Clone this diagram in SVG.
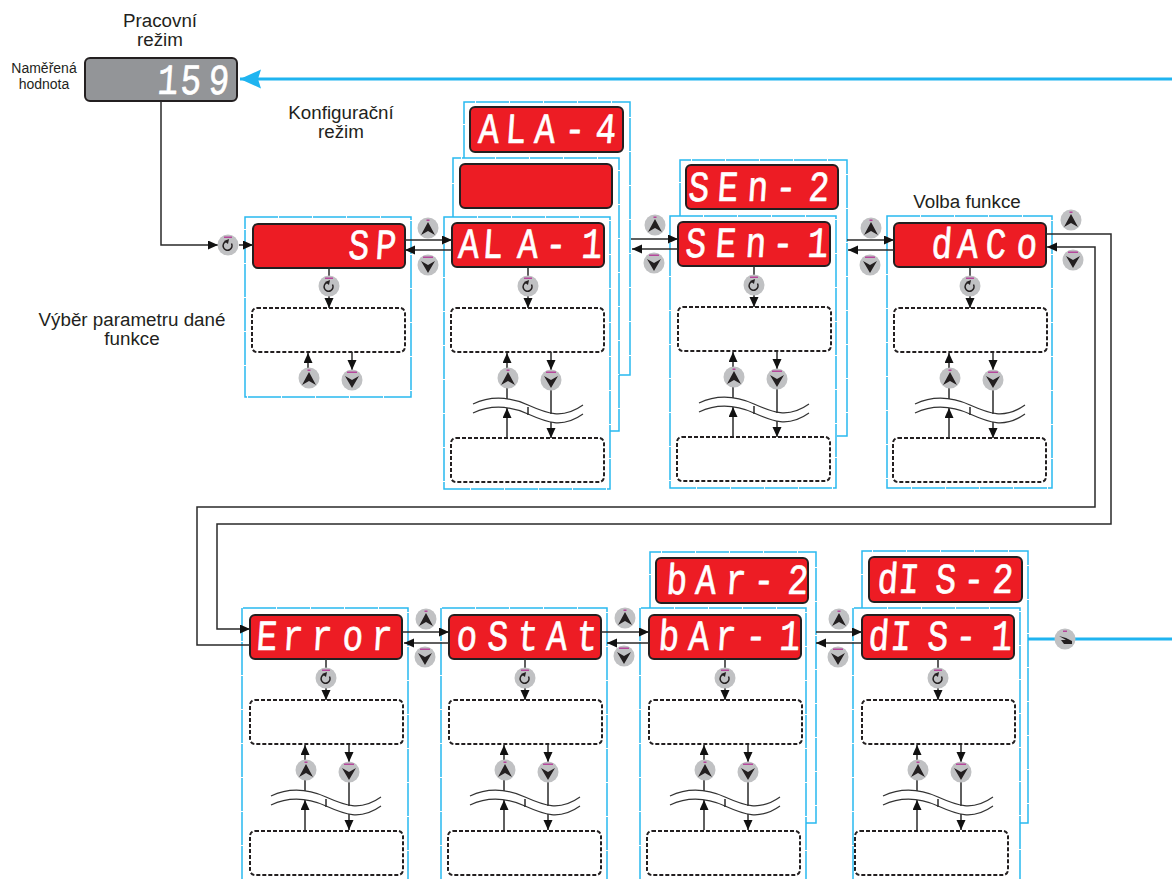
<svg xmlns="http://www.w3.org/2000/svg" width="1172" height="879" viewBox="0 0 1172 879">
<style>
text{font-family:"Liberation Sans",Arial,sans-serif;fill:#231f20}
.lbl{font-size:18.8px;text-anchor:middle}
.sm{font-size:14px;text-anchor:middle}
.seg{font-family:"Liberation Mono","DejaVu Sans Mono",monospace;font-size:43px;fill:#fff;stroke:#fff;stroke-width:.7;stroke-linejoin:round;text-anchor:middle}
.red{fill:#ed1c24;stroke:#231f20;stroke-width:2}
.gray{fill:#939598;stroke:#231f20;stroke-width:2}
.fr{fill:none;stroke:#29b9f0;stroke-width:1.5;stroke-dasharray:33 1}
.dash{fill:none;stroke:#231f20;stroke-width:2;stroke-dasharray:4 2}
.ln{fill:none;stroke:#2a2a2a;stroke-width:1.5}
.arr{marker-end:url(#ah)}
.wave{fill:none;stroke:#333;stroke-width:1.2}
.blue{fill:none;stroke:#1fb4f0;stroke-width:3}
.disc{fill:#c0c1c3}
.pink{fill:#b5479b}
.gl{fill:#231f20}
</style>
<defs>
<marker id="ah" markerUnits="userSpaceOnUse" markerWidth="11" markerHeight="10" refX="10" refY="4.5" orient="auto"><path d="M0,0L10,4.5L0,9z" fill="#111"/></marker>
<marker id="bh" markerUnits="userSpaceOnUse" markerWidth="22" markerHeight="20" refX="21" refY="9.5" orient="auto"><path d="M0,0L21,9.5L0,19L3,9.5z" fill="#1fb4f0"/></marker>
<g id="up"><circle class="disc" r="10.5"/><rect class="pink" x="-1.5" y="-8.5" width="3" height="1.5"/><path class="gl" d="M0,-6L7,7L0,3L-7,7z"/></g>
<g id="dn"><circle class="disc" r="10.5"/><rect class="pink" x="-5" y="-8.5" width="10" height="1.5"/><path class="gl" d="M-7,-4L0,0L7,-4L0,8z"/></g>
<g id="rot"><circle class="disc" r="10.5"/><rect class="pink" x="-4" y="-8.5" width="8" height="1.5"/><path d="M-2,-3.5A4.5,4.5 0 1 0 3.5,-1.5" fill="none" stroke="#231f20" stroke-width="1.5"/><path class="gl" d="M-4,-4L1,-6L0,-1z"/></g>
<g id="hand"><circle class="disc" r="10.5"/><rect class="pink" x="-2" y="-8.5" width="4" height="1.5"/><path class="gl" d="M-6,-3L1,-1L7,2L7,5L-1,5L-4,1L1,1z"/></g>
<path id="box" class="dash" d="M5,0H148a5,5 0 0 1 5,5V39a5,5 0 0 1 -5,5H5a5,5 0 0 1 -5,-5V5a5,5 0 0 1 5,-5z"/>
<g id="links-short">
<path class="ln" d="M76,44V56"/><path class="ln arr" d="M76,70V85"/>
<path class="ln arr" d="M55,146V130"/><path class="ln arr" d="M99,129V147"/>
</g>
<g id="links-long">
<use href="#links-short"/>
<path class="ln" d="M55,165V176"/><path class="ln" d="M99,165V191"/>
<path class="ln arr" d="M55,215V185"/><path class="ln arr" d="M99,199V215"/>
<path class="wave" d="M21,181C40,172 58,174 76,182S110,197 131,182"/>
<path class="wave" d="M21,190C40,181 58,183 76,191S110,206 131,191"/>
<path class="ln" d="M76,184V192" stroke-width="1"/>
</g>
<g id="pads-short"><use href="#rot" x="76" y="63"/><use href="#up" x="56" y="155"/><use href="#dn" x="99" y="157"/></g>
</defs>

<g id="labels">
<text class="lbl" x="160" y="27">Pracovní</text><text class="lbl" x="160" y="46">režim</text>
<text class="sm" x="44" y="73">Naměřená</text><text class="sm" x="44" y="89">hodnota</text>
<text class="lbl" x="341" y="119">Konfigurační</text><text class="lbl" x="341" y="138">režim</text>
<text class="lbl" x="132" y="326">Výběr parametru dané</text><text class="lbl" x="132" y="345">funkce</text>
<text class="lbl" x="967" y="208">Volba funkce</text>
</g>

<g id="node-run"><rect class="gray" x="85" y="58" width="152" height="43" rx="5"/><text class="seg" transform="translate(0,94) skewX(-4) scale(.8,1)" x="208.75 237.5 272.5" y="0">159</text></g>

<g id="node-sp"><rect class="fr" x="245" y="217" width="166" height="180"/><rect class="red" x="253" y="224" width="152" height="44" rx="5"/><text class="seg" transform="translate(0,259) skewX(-4) scale(.8,1)" x="447.5 481.25" y="0">SP</text><use href="#box" x="252" y="308"/></g>

<g id="node-ala">
<path class="fr" d="M464,158V102H630V375H619"/>
<rect class="red" x="470" y="107" width="153" height="45" rx="5"/><text class="seg" transform="translate(0,143) skewX(-4) scale(.8,1)" x="610 643.75 680 717.5 756.25" y="0">ALA-4</text>
<path class="fr" d="M453,217V158H619V431H610"/>
<rect class="red" x="460" y="164" width="152" height="44" rx="5"/>
<rect class="fr" x="444" y="217" width="166" height="272"/>
<rect class="red" x="452" y="223" width="152" height="44" rx="5"/><text class="seg" transform="translate(0,258) skewX(-4) scale(.8,1)" x="585 615 658.75 693.75 738.75" y="0">ALA-1</text>
<use href="#box" x="451" y="308"/><use href="#box" x="451" y="438"/>
</g>

<g id="node-sen">
<path class="fr" d="M680,216V160H847V436H836"/>
<rect class="red" x="686" y="165" width="152" height="44" rx="5"/><text class="seg" transform="translate(0,201) skewX(-4) scale(.8,1)" x="872.5 908.75 946.25 981.25 1022.5" y="0">SEn-2</text>
<rect class="fr" x="670" y="216" width="166" height="272"/>
<rect class="red" x="678" y="222" width="152" height="44" rx="5"/><text class="seg" transform="translate(0,257) skewX(-4) scale(.8,1)" x="868.75 906.25 943.75 977.5 1021.25" y="0">SEn-1</text>
<use href="#box" x="678" y="307"/><use href="#box" x="677" y="437"/>
</g>

<g id="node-daco">
<rect class="fr" x="887" y="216" width="165" height="272"/>
<rect class="red" x="894" y="223" width="152" height="44" rx="5"/><text class="seg" transform="translate(0,258) skewX(-4) scale(.8,1)" x="1176.25 1208.75 1243.75 1282.5" y="0">dACo</text>
<use href="#box" x="894" y="308"/><use href="#box" x="893" y="438"/>
</g>

<g id="node-error">
<path class="fr" d="M242,879V608H408V879"/>
<rect class="red" x="250" y="615" width="152" height="44" rx="5"/><text class="seg" transform="translate(0,650) skewX(-4) scale(.8,1)" x="332.5 365 401.25 440 476.25" y="0">Error</text>
<use href="#box" x="250" y="700"/><use href="#box" x="250" y="831"/>
</g>

<g id="node-ostat">
<path class="fr" d="M441,879V608H607V879"/>
<rect class="red" x="449" y="615" width="152" height="44" rx="5"/><text class="seg" transform="translate(0,650) skewX(-4) scale(.8,1)" x="582.5 621.25 658.75 695 732.5" y="0">oStAt</text>
<use href="#box" x="449" y="700"/><use href="#box" x="448" y="831"/>
</g>

<g id="node-bar">
<path class="fr" d="M650,608V552H816V823H806"/>
<rect class="red" x="656" y="558" width="152" height="45" rx="5"/><text class="seg" transform="translate(0,594) skewX(-4) scale(.8,1)" x="845 881.25 918.75 953.75 996.25" y="0">bAr-2</text>
<path class="fr" d="M640,879V608H806V879"/>
<rect class="red" x="649" y="615" width="152" height="44" rx="5"/><text class="seg" transform="translate(0,650) skewX(-4) scale(.8,1)" x="835 872.5 906.25 943.75 986.25" y="0">bAr-1</text>
<use href="#box" x="649" y="700"/><use href="#box" x="647" y="831"/>
</g>

<g id="node-dis">
<path class="fr" d="M862,608V551H1028V823H1020"/>
<rect class="red" x="869" y="557" width="153" height="45" rx="5"/><text class="seg" transform="translate(0,593) skewX(-4) scale(.8,1)" x="1108.75 1135 1181.25 1216.25 1252.5" y="0">dIS-2</text>
<path class="fr" d="M853,879V608H1020V879"/>
<rect class="red" x="862" y="615" width="152" height="44" rx="5"/><text class="seg" transform="translate(0,650) skewX(-4) scale(.8,1)" x="1097.5 1125 1171.25 1206.25 1251.25" y="0">dIS-1</text>
<use href="#box" x="862" y="700"/><use href="#box" x="855" y="831"/>
</g>

<g id="connectors">
<path class="blue" d="M1172,79H240" marker-end="url(#bh)"/>
<path class="blue" d="M1028,639H1172"/>
<path class="ln arr" d="M161,101V245H218"/>
<path class="ln arr" d="M239,245H253"/>
<path class="ln arr" d="M405,240H452"/><path class="ln arr" d="M452,250H405"/>
<path class="ln arr" d="M631,239H678"/><path class="ln arr" d="M678,249H632"/>
<path class="ln arr" d="M847,240H894"/><path class="ln arr" d="M894,250H848"/>
<path class="ln arr" d="M1046,234H1111V524H217V629H250"/>
<path class="ln arr" d="M250,645H197V507H1095V247H1047"/>
<path class="ln arr" d="M402,632H449"/><path class="ln arr" d="M449,643H404"/>
<path class="ln arr" d="M601,632H649"/><path class="ln arr" d="M649,643H607"/>
<path class="ln arr" d="M816,632H862"/><path class="ln arr" d="M862,643H816"/>
<use href="#links-short" x="253" y="223"/>
<use href="#links-long" x="452" y="223"/>
<use href="#links-long" x="678" y="222"/>
<use href="#links-long" x="894" y="223"/>
<use href="#links-long" x="250" y="615"/>
<use href="#links-long" x="449" y="615"/>
<use href="#links-long" x="649" y="615"/>
<use href="#links-long" x="862" y="615"/>
</g>

<g id="controls">
<use href="#rot" x="228" y="245"/>
<use href="#up" x="428" y="228"/><use href="#dn" x="428" y="265"/>
<use href="#up" x="655" y="225"/><use href="#dn" x="654" y="263"/>
<use href="#up" x="871" y="228"/><use href="#dn" x="870" y="265"/>
<use href="#up" x="1071" y="220"/><use href="#dn" x="1073" y="260"/>
<use href="#up" x="426" y="619"/><use href="#dn" x="425" y="657"/>
<use href="#up" x="625" y="618"/><use href="#dn" x="624" y="656"/>
<use href="#up" x="839" y="619"/><use href="#dn" x="838" y="657"/>
<use href="#hand" x="1065" y="639"/>
<use href="#pads-short" x="253" y="223"/>
<use href="#pads-short" x="452" y="223"/>
<use href="#pads-short" x="678" y="222"/>
<use href="#pads-short" x="894" y="223"/>
<use href="#pads-short" x="250" y="615"/>
<use href="#pads-short" x="449" y="615"/>
<use href="#pads-short" x="649" y="615"/>
<use href="#pads-short" x="862" y="615"/>
</g>
</svg>
